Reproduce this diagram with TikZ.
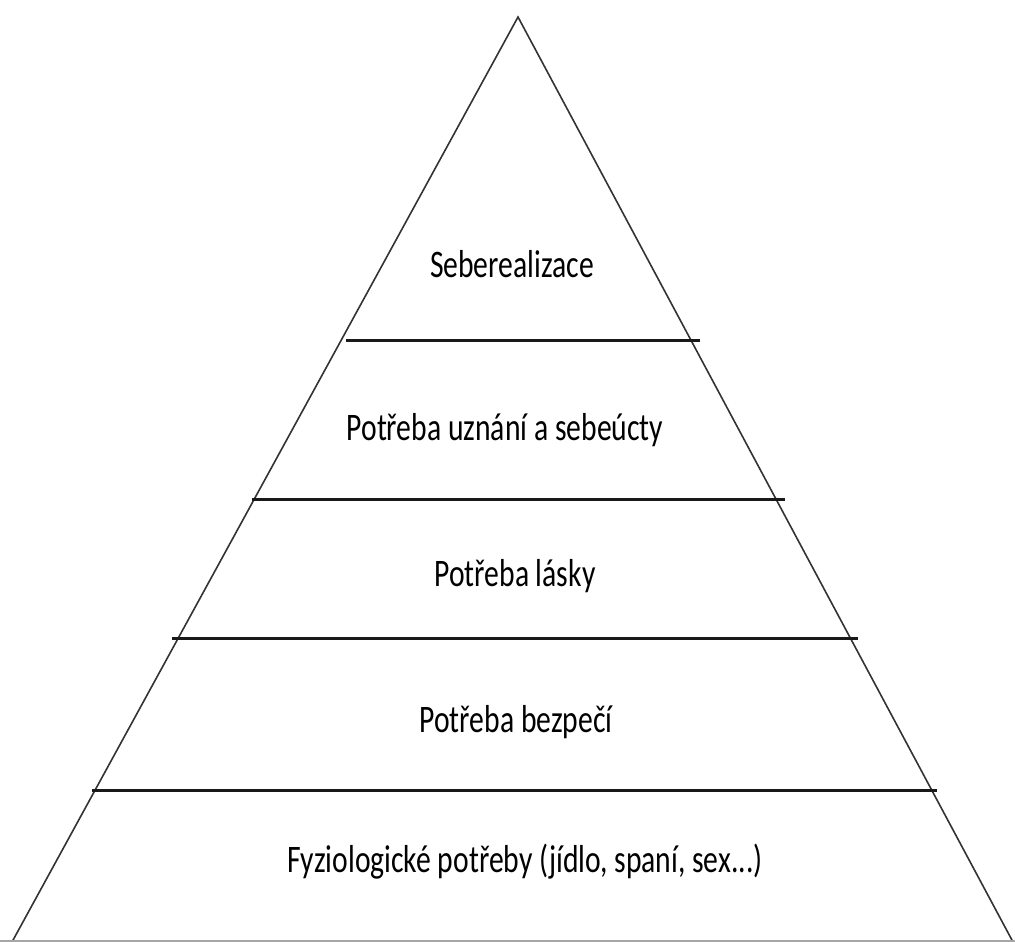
\documentclass[tikz,border=0pt]{standalone}
\usepackage{fontspec}
\usepackage{tikz}
\usetikzlibrary{calc,positioning}
\newfontfamily\pyrfont[FakeStretch=0.76]{Carlito}

\begin{document}
\begin{tikzpicture}[x=1pt, y=-1pt, level/.style={anchor=base, font=\pyrfont\fontsize{39}{43}\selectfont, inner sep=0pt}, divider/.style={line width=3pt, black!90}]
\useasboundingbox (0,0) rectangle (1015,942);
\coordinate (apex) at (518,17);
\coordinate (bl) at (12,942);
\coordinate (br) at (1013,942);
% sides and base
\draw[line width=1.6pt, black!80] (bl) -- (apex) -- (br);
\draw[line width=1.2pt, black!35] (0,941) -- (1015,941);
% dividing lines
\coordinate (d1l) at (346,340); \coordinate (d1r) at (700,340);
\coordinate (d2l) at (252,499); \coordinate (d2r) at (785,499);
\coordinate (d3l) at (172,638); \coordinate (d3r) at (858,638);
\coordinate (d4l) at (92,790);  \coordinate (d4r) at (937,790);
\draw[divider] (d1l) -- (d1r);
\draw[divider] (d2l) -- (d2r);
\draw[divider] (d3l) -- (d3r);
\draw[divider] (d4l) -- (d4r);
% labels
\node (self) [level] at (512,277) {Seberealizace};
\node (esteem) [level] at (505,440) {Potřeba uznání a sebeúcty};
\node (love) [level] at (515,586) {Potřeba lásky};
\node (safety) [level] at (516,732) {Potřeba bezpečí};
\node (body) [level] at (525,872) {Fyziologické potřeby (jídlo, spaní, sex...)};
\end{tikzpicture}
\end{document}
